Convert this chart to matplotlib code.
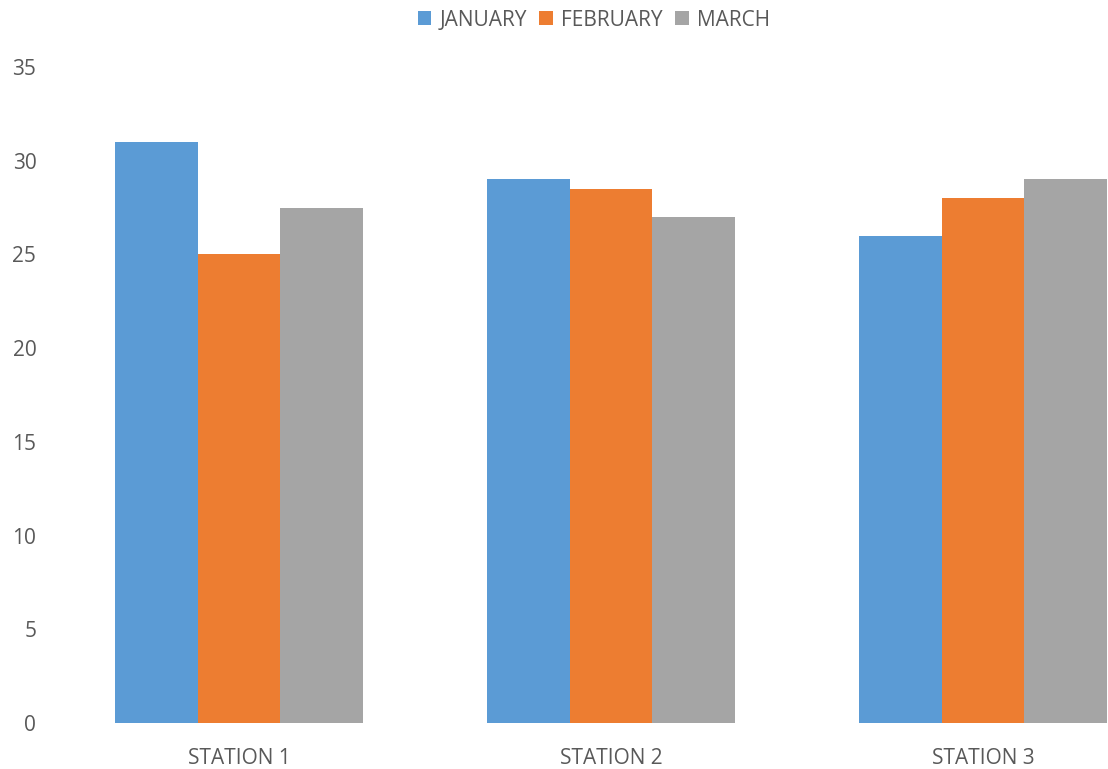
import matplotlib
matplotlib.use("Agg")
import matplotlib.pyplot as plt
import numpy as np

categories = ["STATION 1", "STATION 2", "STATION 3"]
series_names = ["JANUARY", "FEBRUARY", "MARCH"]
january = [31, 29, 26]
february = [25, 28.5, 28]
march = [27.5, 27, 29]
colors = ["#5B9BD5", "#ED7D31", "#A5A5A5"]
yticks = [0, 5, 10, 15, 20, 25, 30, 35]

plt.rcParams['font.family'] = ['Open Sans', 'DejaVu Sans']
txt = "#595959"

W, H = 1108, 769
fig = plt.figure(figsize=(W / 100, H / 100), dpi=100)
left, right, bottom, top = 53, 1108, 46, 702
ax = fig.add_axes([left / W, bottom / H, (right - left) / W, (top - bottom) / H])

x = np.arange(len(categories))
bw = 0.2225
handles = []
for i, (vals, name, c) in enumerate(zip([january, february, march], series_names, colors)):
    h = ax.bar(x + (i - 1) * bw, vals, width=bw, color=c, label=name, linewidth=0)
    handles.append(h)

ax.set_ylim(0, 35)
ax.set_xlim(-0.5, -0.5 + (right - left) / 372)
ax.set_yticks(yticks)
ax.set_yticklabels([str(v) for v in yticks])
ax.set_xticks(x)
ax.set_xticklabels(categories)
for s in ax.spines.values():
    s.set_visible(False)
ax.tick_params(axis='both', length=0, colors=txt, labelsize=15)
ax.tick_params(axis='y', pad=12)
ax.tick_params(axis='x', pad=18)

fig.legend(handles=handles, labels=series_names, loc='center', bbox_to_anchor=(594 / W, 1 - 20 / H),
           ncol=3, frameon=False, fontsize=15, labelcolor=txt, handlelength=0.65, handleheight=0.65,
           handletextpad=0.4, columnspacing=0.6)

fig.savefig("out.png", dpi=100)
